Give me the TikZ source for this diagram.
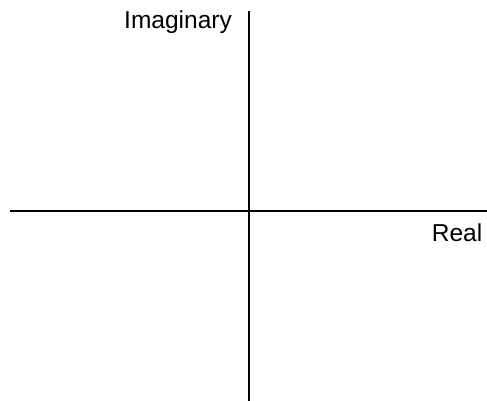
\documentclass[tikz,border=0pt]{standalone}
\usepackage{fontspec}
\setmainfont{Liberation Sans}
\begin{document}
\begin{tikzpicture}[x=1pt,y=-1pt,
  axis/.style={line width=1.5pt,black},
  lbl/.style={font=\fontsize{24.5}{27}\selectfont,inner sep=0pt}]
\useasboundingbox (0,0) rectangle (487,401);
\coordinate (vtop) at (249,11);
\coordinate (vbot) at (249,401);
\coordinate (hleft) at (10,211);
\coordinate (hright) at (487,211);
\draw[axis] (vtop) -- (vbot);
\draw[axis] (hleft) -- (hright);
\node[lbl,anchor=base east] (imag) at (232,28.5) {Imaginary};
\node[lbl,anchor=base east] (real) at (482.5,241.7) {Real};
\end{tikzpicture}
\end{document}
